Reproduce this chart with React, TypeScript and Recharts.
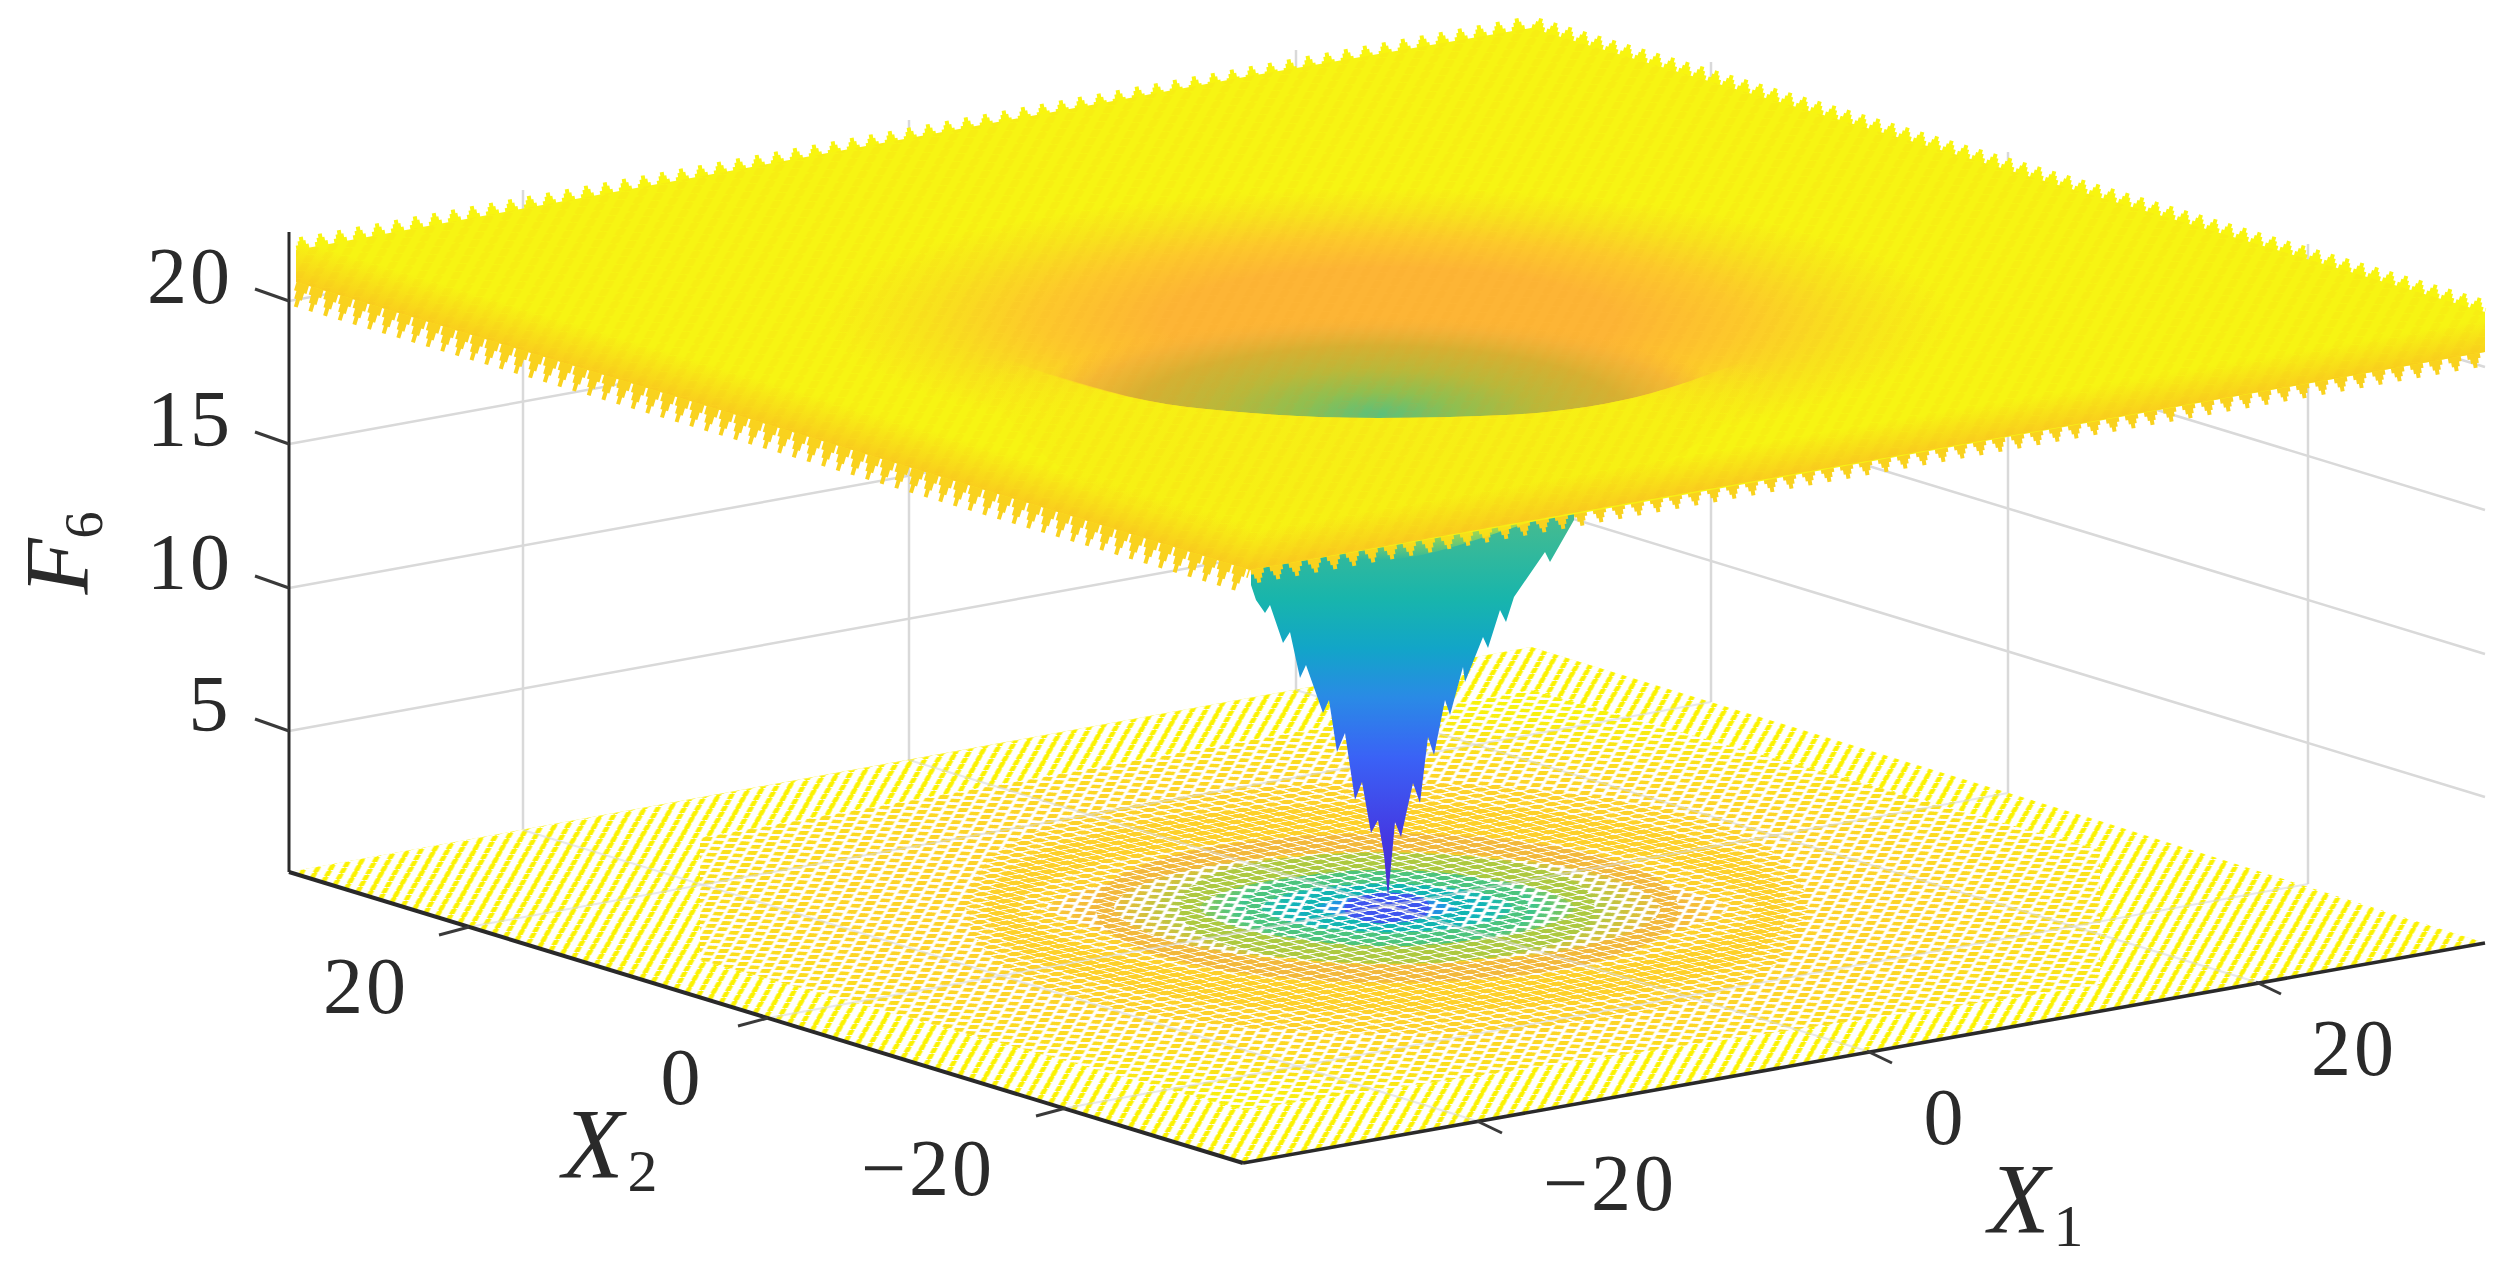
import React from 'react';
import { ComposedChart, Area, Line, Scatter, XAxis, YAxis } from 'recharts';

const WIDTH = 2506;
const HEIGHT = 1265;

type Pt = { x: number; y: number };
type Band = { x: number; top: number; bot: number };

const zAxisLine: Pt[] = [{ x: 289, y: 232 }, { x: 289, y: 872 }];
const x2AxisLine: Pt[] = [{ x: 289, y: 872 }, { x: 1243, y: 1163 }];
const x1AxisLine: Pt[] = [{ x: 1243, y: 1163 }, { x: 2485, y: 943 }];

const zTicks: Pt[][] = [
  [{ x: 255, y: 289 }, { x: 289, y: 301 }],
  [{ x: 255, y: 432 }, { x: 289, y: 444 }],
  [{ x: 255, y: 576 }, { x: 289, y: 588 }],
  [{ x: 255, y: 719 }, { x: 289, y: 731 }],
];
const x2Ticks: Pt[][] = [
  [{ x: 469, y: 927 }, { x: 439, y: 935 }],
  [{ x: 768, y: 1018 }, { x: 738, y: 1026 }],
  [{ x: 1066, y: 1108 }, { x: 1036, y: 1116 }],
];
const x1Ticks: Pt[][] = [
  [{ x: 1477, y: 1121 }, { x: 1502, y: 1133 }],
  [{ x: 1867, y: 1051 }, { x: 1892, y: 1063 }],
  [{ x: 2256, y: 982 }, { x: 2281, y: 994 }],
];

const wallGrid: Pt[][] = [
  [{ x: 289, y: 301 }, { x: 1531, y: 76 }, { x: 2485, y: 367 }],
  [{ x: 289, y: 444 }, { x: 1531, y: 219 }, { x: 2485, y: 510 }],
  [{ x: 289, y: 588 }, { x: 1531, y: 363 }, { x: 2485, y: 654 }],
  [{ x: 289, y: 731 }, { x: 1531, y: 506 }, { x: 2485, y: 797 }],
  [{ x: 523, y: 190 }, { x: 523, y: 830 }],
  [{ x: 909, y: 120 }, { x: 909, y: 760 }],
  [{ x: 1296, y: 50 }, { x: 1296, y: 690 }],
  [{ x: 1711, y: 62 }, { x: 1711, y: 702 }],
  [{ x: 2008, y: 152 }, { x: 2008, y: 793 }],
  [{ x: 2308, y: 244 }, { x: 2308, y: 884 }],
];
const floorGrid: Pt[][] = [
  [{ x: 523, y: 830 }, { x: 1477, y: 1121 }],
  [{ x: 909, y: 760 }, { x: 1867, y: 1051 }],
  [{ x: 1296, y: 690 }, { x: 2256, y: 982 }],
  [{ x: 1711, y: 702 }, { x: 469, y: 927 }],
  [{ x: 2008, y: 793 }, { x: 768, y: 1018 }],
  [{ x: 2308, y: 884 }, { x: 1066, y: 1108 }],
];

const floorOutline: Band[] = [
  { x: 289, top: 872, bot: 872 },
  { x: 1243, top: 699, bot: 1163 },
  { x: 1531, top: 647, bot: 1112 },
  { x: 2485, top: 943, bot: 943 },
];
// near the rim of the floor the contour dashes merge to slanted stripes
const rimLeft: Band[] = [{ x: 289, top: 872, bot: 872 }, { x: 700, top: 798, bot: 998 }];
const rimRight: Band[] = [{ x: 2100, top: 821, bot: 1011 }, { x: 2485, top: 943, bot: 943 }];
const rimFront: Band[] = [{ x: 700, top: 960, bot: 998 }, { x: 1243, top: 1110, bot: 1163 }, { x: 2100, top: 985, bot: 1011 }];
const rimBack: Band[] = [{ x: 700, top: 798, bot: 838 }, { x: 1531, top: 647, bot: 690 }, { x: 2100, top: 821, bot: 850 }];

const ringGold: Pt[] = [
  { x: 1725, y: 848 }, { x: 1810, y: 922 }, { x: 1647, y: 987 }, { x: 1331, y: 1006 },
  { x: 1049, y: 968 }, { x: 964, y: 894 }, { x: 1127, y: 829 }, { x: 1443, y: 810 },
];
const ringOrange: Pt[] = [
  { x: 1635, y: 864 }, { x: 1697, y: 918 }, { x: 1578, y: 966 }, { x: 1346, y: 980 },
  { x: 1139, y: 952 }, { x: 1077, y: 898 }, { x: 1196, y: 850 }, { x: 1428, y: 836 },
];
const ringLime: Pt[] = [
  { x: 1561, y: 877 }, { x: 1604, y: 915 }, { x: 1521, y: 949 }, { x: 1358, y: 958 },
  { x: 1213, y: 939 }, { x: 1170, y: 901 }, { x: 1253, y: 867 }, { x: 1416, y: 858 },
];
const ringGreen: Pt[] = [
  { x: 1505, y: 887 }, { x: 1534, y: 913 }, { x: 1478, y: 936 }, { x: 1368, y: 942 },
  { x: 1269, y: 929 }, { x: 1240, y: 903 }, { x: 1296, y: 880 }, { x: 1406, y: 874 },
];
const ringTeal: Pt[] = [
  { x: 1455, y: 896 }, { x: 1472, y: 911 }, { x: 1439, y: 924 }, { x: 1376, y: 928 },
  { x: 1319, y: 920 }, { x: 1302, y: 905 }, { x: 1335, y: 892 }, { x: 1398, y: 888 },
];
const ringBlue: Pt[] = [
  { x: 1418, y: 902 }, { x: 1426, y: 909 }, { x: 1411, y: 915 }, { x: 1382, y: 917 },
  { x: 1356, y: 914 }, { x: 1348, y: 907 }, { x: 1363, y: 901 }, { x: 1392, y: 899 },
];

// lower rim of the funnel with its spikes, the top is hidden behind the sheet
const funnelX = [1251, 1256, 1265, 1270, 1283, 1290, 1300, 1306, 1323, 1329, 1337, 1345, 1355, 1362, 1371, 1378, 1384, 1388, 1392, 1395, 1401, 1413, 1420, 1428, 1434, 1445, 1450, 1463, 1465, 1483, 1488, 1500, 1506, 1514, 1545, 1550, 1574];
const funnelY = [585, 600, 613, 605, 643, 632, 678, 665, 713, 700, 752, 733, 800, 782, 833, 820, 855, 897, 855, 822, 837, 783, 803, 737, 755, 700, 715, 667, 682, 637, 648, 610, 622, 597, 552, 562, 520];
const funnelBand: Band[] = funnelX.map((x, i) => ({ x, top: 400, bot: funnelY[i] }));

const sheetOutline: Band[] = [
  { x: 296, top: 250, bot: 282 },
  { x: 1250, top: 76, bot: 570 },
  { x: 1531, top: 28, bot: 522 },
  { x: 2485, top: 312, bot: 352 },
];
const shadeLeft: Band[] = [{ x: 296, top: 230, bot: 282 }, { x: 1250, top: 510, bot: 570 }];
const shadeRight: Band[] = [{ x: 1250, top: 510, bot: 570 }, { x: 2485, top: 300, bot: 352 }];
const basinBand: Band[] = [
  { x: 1028, top: 367, bot: 367 },
  { x: 1187, top: 290, bot: 407 },
  { x: 1378, top: 225, bot: 418 },
  { x: 1506, top: 270, bot: 415 },
  { x: 1652, top: 330, bot: 393 },
  { x: 1729, top: 367, bot: 367 },
];
const lipBand: Band[] = [
  { x: 950, top: 335, bot: 335 },
  { x: 1028, top: 367, bot: 440 },
  { x: 1187, top: 407, bot: 520 },
  { x: 1378, top: 418, bot: 560 },
  { x: 1506, top: 415, bot: 530 },
  { x: 1652, top: 393, bot: 470 },
  { x: 1729, top: 367, bot: 420 },
  { x: 1810, top: 335, bot: 335 },
];

const sheetBackLeft: Pt[] = [{ x: 296, y: 250 }, { x: 1531, y: 28 }];
const sheetBackRight: Pt[] = [{ x: 1531, y: 28 }, { x: 2485, y: 312 }];
const sheetFrontLeft: Pt[] = [{ x: 296, y: 282 }, { x: 1250, y: 570 }];
const sheetFrontRight: Pt[] = [{ x: 1250, y: 570 }, { x: 2485, y: 352 }];

const tickLabels = [
  { x: 190, y: 303, text: '20' },
  { x: 190, y: 446, text: '15' },
  { x: 190, y: 589, text: '10' },
  { x: 210, y: 731, text: '5' },
  { x: 366, y: 1013, text: '20' },
  { x: 682, y: 1104, text: '0' },
  { x: 928, y: 1195, text: '\u221220' },
  { x: 1610, y: 1210, text: '\u221220' },
  { x: 1945, y: 1144, text: '0' },
  { x: 2354, y: 1075, text: '20' },
];
const axisTitles = [
  { x: 610, y: 1177, base: 'X', sub: '2' },
  { x: 2036, y: 1232, base: 'X', sub: '1' },
];
const zTitle = [{ x: 88, y: 553, base: 'F', sub: '6' }];

// colours of the floor contours, from the middle outwards
const floorStops: [number, string][] = [
  [0, '#4a2fd8'], [0.02, '#3f5cf0'], [0.05, '#1e96e0'], [0.085, '#10b4b8'], [0.13, '#3dc48a'],
  [0.18, '#a5c845'], [0.225, '#d9c03a'], [0.26, '#f2b63a'], [0.3, '#f9c737'], [0.35, '#fdd02a'],
  [0.5, '#fdd426'], [0.63, '#fbe01a'], [0.78, '#f8f20c'],
];
const sheetStops: [number, string][] = [
  [0, '#fdb535'], [0.4, '#fdb535'], [0.62, '#fdc92b'], [0.82, '#f8e31c'], [1, '#f7f413'],
];
const funnelStops: [number, string][] = [
  [0.24, '#45bb90'], [0.4, '#18b5ac'], [0.5, '#12a5c8'], [0.6, '#2a8ae6'], [0.72, '#3a62f6'], [0.885, '#4538e2'], [1, '#4a2ed0'],
];

const FLOOR_MATRIX = 'matrix(11.36 3.46 14.79 -2.62 289 872)';
const SHEET_MATRIX = 'matrix(14.9 4.54 19.4 -3.44 296 250)';
const serif = '"Liberation Serif", "DejaVu Serif", serif';
const ink = '#2a2a2a';

const Dots = ({ id, color, size }: { id: string; color: string; size: number }) => (
  <pattern id={id} width={1} height={1} patternUnits="userSpaceOnUse" patternTransform={FLOOR_MATRIX}>
    <rect x={(1 - size) / 2} y={(1 - size) / 2} width={size} height={size} fill={color} />
  </pattern>
);

const TickText = (props: any) => (
  <text x={props.cx} y={props.cy} textAnchor="middle" fontFamily={serif} fontSize={80} letterSpacing={3} fill={ink}>
    {props.payload.text}
  </text>
);
const TitleText = (props: any) => (
  <text x={props.cx} y={props.cy} textAnchor="middle" fontFamily={serif} fontStyle="italic" fontSize={100} fill={ink}>
    {props.payload.base}
    <tspan dx={4} dy={14} fontSize={60} fontStyle="normal">{props.payload.sub}</tspan>
  </text>
);
const RotatedTitle = (props: any) => (
  <text
    x={props.cx}
    y={props.cy}
    textAnchor="middle"
    fontFamily={serif}
    fontStyle="italic"
    fontSize={92}
    fill={ink}
    transform={`rotate(-90 ${props.cx} ${props.cy})`}
  >
    {props.payload.base}
    <tspan dy={14} fontSize={54} fontStyle="normal">{props.payload.sub}</tspan>
  </text>
);

const noMark = { dot: false, activeDot: false, isAnimationActive: false, legendType: 'none' as const };
let layer = 1;
const nextZ = () => layer++;

const App = () => {
  layer = 1;
  const line = (data: Pt[], stroke: string, strokeWidth: number, extra: any = {}) => (
    <Line key={`l${layer}`} data={data} dataKey="y" stroke={stroke} strokeWidth={strokeWidth} zIndex={nextZ()} {...noMark} {...extra} />
  );
  const band = (data: Band[], fill: string, extra: any = {}) => (
    <Area
      key={`a${layer}`}
      data={data}
      dataKey={(d: Band) => [d.top, d.bot]}
      type="linear"
      stroke="none"
      fill={fill}
      fillOpacity={1}
      zIndex={nextZ()}
      {...noMark}
      {...extra}
    />
  );
  // three dash layers stacked on an edge make the saw teeth of the coarse mesh
  const teeth = (data: Pt[], color: string, depth: number, period: number) =>
    [
      [depth * 2, 4, -5],
      [depth * 1.35, 8, -3],
      [depth * 0.7, 13, -0.5],
    ].map(([w, dash, offset]) =>
      line(data, color, w, { strokeDasharray: `${dash} ${period - dash}`, strokeDashoffset: offset })
    );

  return (
    <div style={{ position: 'absolute', left: 0, top: 0, width: WIDTH, height: HEIGHT, background: '#fff' }}>
      <ComposedChart width={WIDTH} height={HEIGHT} margin={{ top: 0, right: 0, bottom: 0, left: 0 }}>
        <defs>
          <radialGradient id="floorFill" gradientUnits="userSpaceOnUse" cx={0} cy={0} r={1.42} gradientTransform="matrix(621 -110 477 145 1387 908)">
            {floorStops.map(([o, c]) => <stop key={o} offset={o} stopColor={c} />)}
          </radialGradient>
          <pattern id="floorMask" width={1} height={1} patternUnits="userSpaceOnUse" patternTransform={FLOOR_MATRIX}>
            <path d="M0 0H1V1H0Z M0.98 0.38L0.38 0.98L0.02 0.62L0.62 0.02Z" fill="#fff" fillRule="evenodd" />
          </pattern>
          <pattern id="rimStripes" width={1} height={1} patternUnits="userSpaceOnUse" patternTransform={FLOOR_MATRIX}>
            <path d="M0 0.8L0.8 0L1 0L1 0.2L0.2 1L0 1Z" fill="#fbf200" />
          </pattern>
          <pattern id="sheetSheen" width={1} height={1} patternUnits="userSpaceOnUse" patternTransform={SHEET_MATRIX}>
            <path d="M0 0.75L0.75 0L1 0L1 0.25L0.25 1L0 1Z" fill="#f0901a" />
          </pattern>
          <Dots id="dotsGoldSoft" color="#fdd12a" size={0.72} />
          <Dots id="dotsGold" color="#fdd02a" size={0.84} />
          <Dots id="dotsOrange" color="#f2b83c" size={0.82} />
          <Dots id="dotsLime" color="#adc93f" size={0.8} />
          <Dots id="dotsGreen" color="#4cc47c" size={0.76} />
          <Dots id="dotsTeal" color="#12b5b0" size={0.74} />
          <Dots id="dotsBlue" color="#3f55ee" size={0.76} />
          <radialGradient id="sheetFill" gradientUnits="userSpaceOnUse" cx={0} cy={0} r={0.72} gradientTransform="matrix(621 -110 477 145 1390 320)">
            {sheetStops.map(([o, c]) => <stop key={o} offset={o} stopColor={c} />)}
          </radialGradient>
          <linearGradient id="shadeLeftFill" gradientUnits="userSpaceOnUse" x1={773} y1={426} x2={785} y2={386}>
            <stop offset={0} stopColor="#fac81f" stopOpacity={0.85} />
            <stop offset={1} stopColor="#fac81f" stopOpacity={0} />
          </linearGradient>
          <linearGradient id="shadeRightFill" gradientUnits="userSpaceOnUse" x1={1867} y1={461} x2={1861} y2={426}>
            <stop offset={0} stopColor="#fac81f" stopOpacity={0.85} />
            <stop offset={1} stopColor="#fac81f" stopOpacity={0} />
          </linearGradient>
          <linearGradient id="funnelFill" x1={0} y1={0} x2={0} y2={1}>
            {funnelStops.map(([o, c]) => <stop key={o} offset={o} stopColor={c} />)}
          </linearGradient>
          <radialGradient id="basinFill" cx={0.5} cy={0.98} r={0.52}>
            <stop offset={0} stopColor="#5cc07a" />
            <stop offset={0.22} stopColor="#8fbf50" />
            <stop offset={0.44} stopColor="#b9b83a" />
            <stop offset={0.68} stopColor="#d6b032" />
            <stop offset={0.86} stopColor="#f2b238" stopOpacity={0.8} />
            <stop offset={1} stopColor="#fdb535" stopOpacity={0} />
          </radialGradient>
          <radialGradient id="lipFill" cx={0.49} cy={0.45} r={0.55}>
            <stop offset={0} stopColor="#f7ee16" />
            <stop offset={0.6} stopColor="#f7f014" />
            <stop offset={1} stopColor="#f7f014" stopOpacity={0} />
          </radialGradient>
        </defs>
        <XAxis type="number" dataKey="x" domain={[0, WIDTH]} hide allowDataOverflow />
        <YAxis type="number" dataKey="y" domain={[0, HEIGHT]} reversed hide allowDataOverflow />

        {wallGrid.map((d) => line(d, '#d9d9d9', 2.5))}

        {band(floorOutline, 'url(#floorFill)')}
        {band(floorOutline, 'url(#floorMask)')}
        {line(ringGold, 'url(#dotsGoldSoft)', 72, { type: 'basisClosed' })}
        {line(ringGold, 'url(#dotsGold)', 30, { type: 'basisClosed' })}
        {line(ringOrange, 'url(#dotsOrange)', 18, { type: 'basisClosed' })}
        {line(ringLime, 'url(#dotsLime)', 20, { type: 'basisClosed' })}
        {line(ringGreen, 'url(#dotsGreen)', 14, { type: 'basisClosed' })}
        {line(ringTeal, 'url(#dotsTeal)', 12, { type: 'basisClosed' })}
        {line(ringBlue, 'url(#dotsBlue)', 14, { type: 'basisClosed' })}
        {[rimLeft, rimRight, rimFront, rimBack].map((d) => [band(d, '#fff'), band(d, 'url(#rimStripes)')])}
        {floorGrid.map((d) => line(d, '#d9d9d9', 2, { strokeOpacity: 0.6 }))}

        {line(zAxisLine, ink, 3)}
        {line(x2AxisLine, ink, 4)}
        {line(x1AxisLine, ink, 3.5)}
        {[...zTicks, ...x2Ticks, ...x1Ticks].map((d) => line(d, '#3a3a3a', 3))}

        {band(funnelBand, 'url(#funnelFill)')}

        {teeth(sheetBackLeft, '#f8f50f', 12, 19.3)}
        {teeth(sheetBackRight, '#f8f50f', 12, 15.3)}
        {teeth(sheetFrontLeft, '#f9d21e', 24, 15.3)}
        {teeth(sheetFrontRight, '#f9d21e', 14, 19.3)}
        {band(sheetOutline, 'url(#sheetFill)')}
        {band(basinBand, 'url(#basinFill)', { type: 'monotone' })}
        {band(lipBand, 'url(#lipFill)', { type: 'monotone' })}
        {band(shadeLeft, 'url(#shadeLeftFill)')}
        {band(shadeRight, 'url(#shadeRightFill)')}
        {band(sheetOutline, 'url(#sheetSheen)', { fillOpacity: 0.06 })}

        <Scatter data={tickLabels} shape={TickText} isAnimationActive={false} legendType="none" zIndex={nextZ()} />
        <Scatter data={axisTitles} shape={TitleText} isAnimationActive={false} legendType="none" zIndex={nextZ()} />
        <Scatter data={zTitle} shape={RotatedTitle} isAnimationActive={false} legendType="none" zIndex={nextZ()} />
      </ComposedChart>
    </div>
  );
};

export default App;
